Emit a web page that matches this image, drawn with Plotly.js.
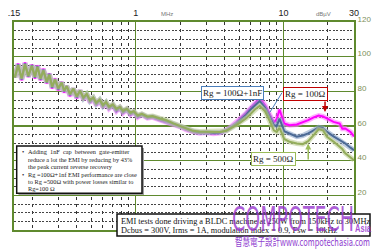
<!DOCTYPE html>
<html>
<head>
<meta charset="utf-8">
<script src="https://cdn.plot.ly/plotly-3.0.1.min.js"></script>
<style>
html,body{margin:0;padding:0;background:#fff;}
#wrap{position:relative;width:375px;height:252px;overflow:hidden;}
#chart{position:absolute;left:0;top:0;width:375px;height:252px;}
.wm{position:absolute;white-space:nowrap;transform-origin:0 0;pointer-events:none;}
</style>
</head>
<body>
<div id="wrap">
<div id="chart"></div>
<div class="wm" id="wm1" style="font-family:'Liberation Sans Narrow','DejaVu Sans Condensed',sans-serif;font-size:37px;line-height:37px;color:rgba(150,50,205,0.78);">COMPOTECH</div>
<div class="wm" id="wm2" style="font-family:'Liberation Sans','DejaVu Sans',sans-serif;font-weight:bold;font-size:11px;line-height:11px;color:rgba(150,50,205,0.85);">Asia</div>
<div class="wm" id="wm3" style="font-family:'Noto Sans CJK TC','Noto Sans',sans-serif;font-size:10px;line-height:10px;color:#9040d0;">智慧電子設計www.compotechasia.com</div>
</div>
<script>
// Frequency (MHz)
const freq = [0.152,0.160,0.169,0.178,0.1875,0.198,0.208,0.216,0.227,0.237,
  0.250,0.260,0.272,0.284,0.299,0.315,0.328,0.341,0.359,0.378,
  0.399,0.420,0.442,0.466,0.490,0.516,0.54,0.57,0.60,0.63,
  0.66,0.70,0.74,0.78,0.82,0.87,0.92,0.97,1.03,1.10,
  1.2,1.3,1.45,1.6,1.8,2.0,2.2,2.45,2.7,3.0,
  3.35,3.7,4.1,4.4,4.8,5.2,5.6,6.0,6.4,6.9,
  7.5,8.1,8.6,9.0,9.4,10.1,11.0,12.3,13.5,14.7,
  16.0,17.3,18.5,19.7,21.8,24.0,25.0,26.2,28.4,30.0];
// Rg = 100 Ohm (dBuV)
const rg100 = [88,96,86.4,96.6,88.3,95.4,87.4,95.0,86.4,93.1,
  84.5,90.3,81.6,87.4,80.6,85.4,79.2,83.1,77.2,81.6,
  76.0,80.6,75.2,78.2,73.6,76.2,72.0,75.0,70.8,73.5,
  70.0,72.0,68.5,70.5,67.5,69.5,66.5,68.0,65.0,66.5,
  64.5,65.0,63.5,62.5,60.8,59.5,57.8,56.5,55.8,56.2,
  55.6,56.0,57.5,59.5,62.0,65.0,67.5,70.5,73.0,76.0,
  72.0,66.5,62.0,64.0,69.5,61.5,60.5,60.9,62.0,63.4,
  65.0,66.0,65.5,64.3,62.4,61.4,58.5,58.6,56.6,54.0];
// Rg = 100 Ohm + 1nF
const rg100nf = [88,95.5,87,96,88.6,95,88,94.5,87,92.5,
  85,90,82.2,87,81.2,85.2,80,83,78,81.5,
  76.6,80.4,76,78.3,74.4,76.3,72.8,75.1,71.5,73.6,
  70.6,72.2,69.2,70.7,68.2,69.7,67.2,68.2,65.6,66.7,
  65,65.4,64,63,61.2,59.8,58.2,56.9,56.3,56.5,
  56,56.2,57.4,59,61.3,64,66.5,69.5,72,74.3,
  70.5,64.5,60.5,60,64.3,57,55.5,53.8,54.5,55.7,
  57.5,59.2,58.8,56.6,54,51.8,51,49.9,47.5,46];
// Rg = 500 Ohm
const rg500 = [88,95,87.5,95.5,89,94.5,88.5,94,87.5,92,
  85.5,89.5,82.8,86.8,81.8,85,80.5,83,78.5,81.5,
  77.2,80.3,76.5,78.5,75,76.5,73.5,75.2,72.2,73.8,
  71.2,72.5,70,71,68.8,70,67.8,68.5,66.2,67,
  65.5,65.8,64.5,63.5,61.5,60,58.5,57.2,56.8,56.8,
  56.5,56.5,57.2,58.6,60.5,62.5,64.5,67,69.5,71.6,
  68.5,62.5,57.5,56.6,58.9,52.5,50.9,49.9,49.5,51.2,
  55,58.1,57.5,53.8,51,48,46.8,44.2,42,40.3];

const xTickVals = [0.15,1,10,30];
const xTickText = ['.15','1','10','30'];
const xMinor = [0.2,0.3,0.4,0.5,0.6,0.7,0.8,0.9,2,3,4,5,6,7,8,9,20];
const yTickVals = [0,20,40,60,80,100,120];
const yTickText = ['','20','40','60','80','100','120'];

const series = [
  {y: rg100, core:'#ff00ff', halo:'rgba(255,120,255,0.6)'},
  {y: rg100nf, core:'#4c6a96', halo:'rgba(140,165,200,0.6)'},
  {y: rg500, core:'#94ad5c', halo:'rgba(190,205,150,0.6)'}
];
const traces = [];
series.forEach(s=>{
  traces.push({x:freq, y:s.y, mode:'lines', line:{color:s.halo, width:5}, hoverinfo:'skip', showlegend:false});
  traces.push({x:freq, y:s.y, mode:'lines', line:{color:s.core, width:2}, hoverinfo:'skip', showlegend:false});
});

const L = 14, R = 354, T = 22, B = 230;
const px = v => (v - L)/(R - L);
const py = v => (B - v)/(B - T);
const lg = Math.log10;

const serif = 'Liberation Serif, Times New Roman, serif';
const ann = [];
ann.push({xref:'paper',yref:'paper',x:px(167),y:py(9),text:'MHz',showarrow:false,font:{size:6,color:'#777',family:'Liberation Sans'}});
ann.push({xref:'paper',yref:'paper',x:px(333),y:py(9),text:'dBµV',showarrow:false,font:{size:6,color:'#777',family:'Liberation Sans'}});
// label boxes
ann.push({xref:'paper',yref:'paper',x:px(264),y:py(85.5),text:'Rg = 100Ω+1nF',showarrow:false,font:{size:9,color:'#222',family:serif},bgcolor:'#fff',bordercolor:'#4a7ebb',borderwidth:1,borderpad:1});
ann.push({xref:'paper',yref:'paper',x:px(328),y:py(93.5),text:'Rg = 100Ω',showarrow:false,font:{size:9,color:'#222',family:serif},bgcolor:'#fff',bordercolor:'#c00000',borderwidth:1,borderpad:1});
ann.push({xref:'paper',yref:'paper',x:px(296),y:py(166),text:'Rg = 500Ω',showarrow:false,font:{size:9,color:'#222',family:serif},bgcolor:'#fff',bordercolor:'#9bbb59',borderwidth:1,borderpad:1});
// arrows
ann.push({x:lg(8.1),y:68,text:'',showarrow:true,arrowhead:0,arrowwidth:1,arrowcolor:'#4a7ebb',ax:13,ay:-21,standoff:0});
ann.push({x:lg(19.1),y:68.1,text:'',showarrow:true,arrowhead:2,arrowsize:0.8,arrowwidth:1.5,arrowcolor:'#c00000',ax:0,ay:-12,standoff:0});
ann.push({x:lg(14.7),y:49.9,text:'',showarrow:true,arrowhead:2,arrowsize:0.8,arrowwidth:1.5,arrowcolor:'#9bbb59',ax:0,ay:17.5,standoff:0});
// note box text
const nb = '\u00a0';
const noteLines = [
  'Adding'+nb+nb+'1nF'+nb+nb+'cap'+nb+nb+'between'+nb+nb+'gate-emitter',
  'reduce a lot the EMI by reducing by 43%',
  'the peak current reverse recovery',
  'Rg =100Ω+1nf EMI performance are close',
  'to Rg =500Ω with power losses similar to',
  'Rg=100 Ω'
];
const noteY = [151.7,159.3,166.7,174,181.7,188.3];
noteLines.forEach((t,i)=>{
  ann.push({xref:'paper',yref:'paper',x:px(26),y:py(noteY[i]),xanchor:'left',yanchor:'middle',text:t,showarrow:false,font:{size:6.3,color:'#222',family:serif}});
});
[0,3].forEach(i=>ann.push({xref:'paper',yref:'paper',x:px(20),y:py(noteY[i]),xanchor:'left',yanchor:'middle',text:'•',showarrow:false,font:{size:6.3,color:'#222',family:serif}}));
// bottom box text
ann.push({xref:'paper',yref:'paper',x:px(119),y:py(221),xanchor:'left',yanchor:'middle',text:'EMI tests done driving a BLDC machine at 250W from 150kHz to 30MHz',showarrow:false,font:{size:8.3,color:'#111',family:serif}});
ann.push({xref:'paper',yref:'paper',x:px(119),y:py(230),xanchor:'left',yanchor:'middle',text:'Dcbus = 300V, Irms = 1A, modulation index = 0.9, Fsw = 10kHz',showarrow:false,font:{size:8.3,color:'#111',family:serif}});

const shapes = [
  {type:'rect',xref:'paper',yref:'paper',x0:px(18.5),x1:px(144),y0:py(195),y1:py(148),fillcolor:'#a0a0a0',line:{width:0},layer:'above'},
  {type:'rect',xref:'paper',yref:'paper',x0:px(16.7),x1:px(142),y0:py(193.3),y1:py(146),fillcolor:'#fff',line:{color:'#111',width:1.5},layer:'above'},
  {type:'rect',xref:'paper',yref:'paper',x0:px(117),x1:px(370),y0:py(236),y1:py(214),fillcolor:'#fff',line:{color:'#111',width:1.5},layer:'above'}
];

const green = '#5f8a2e';
const layout = {
  width:375, height:252,
  margin:{l:L, r:375-R, t:T, b:252-B, pad:0},
  paper_bgcolor:'#fff', plot_bgcolor:'#fff',
  showlegend:false,
  xaxis:{type:'log', range:[lg(0.15), lg(30)], side:'top',
    tickmode:'array', tickvals:xTickVals, ticktext:xTickText, ticks:'',
    tickfont:{size:9,color:'#222',family:'Liberation Sans'},
    showgrid:true, gridcolor:green, gridwidth:1.5,
    showline:true, mirror:true, linecolor:green, linewidth:2, zeroline:false,
    minor:{tickmode:'array', tickvals:xMinor, showgrid:true, gridcolor:'#333', griddash:'3px,4px', gridwidth:1, ticks:''}
  },
  yaxis:{range:[0,120], side:'right', tickmode:'array', tickvals:yTickVals, ticktext:yTickText, ticks:'',
    tickfont:{size:8,color:'#7d8f5a',family:'Liberation Sans'}, ticklabelshift:-3,
    showgrid:true, gridcolor:green, gridwidth:1.5,
    showline:true, mirror:true, linecolor:green, linewidth:2, zeroline:false,
    minor:{dtick:5, tick0:0, showgrid:true, gridcolor:'#444', griddash:'2px,1.5px', gridwidth:1, ticks:''}
  },
  annotations:ann, shapes:shapes
};

Plotly.newPlot('chart', traces, layout, {displayModeBar:false, staticPlot:true}).then(()=>{
  function fit(id, left, top, w, h){
    const el = document.getElementById(id);
    const r = el.getBoundingClientRect();
    const sx = w / r.width, sy = h / r.height;
    el.style.left = left+'px'; el.style.top = top+'px';
    el.style.transform = 'scale('+sx+','+sy+')';
  }
  fit('wm1', 232, 203, 122, 34);
  fit('wm2', 355, 224, 16, 10);
  fit('wm3', 235, 236, 135, 11);
});
</script>
</body>
</html>
